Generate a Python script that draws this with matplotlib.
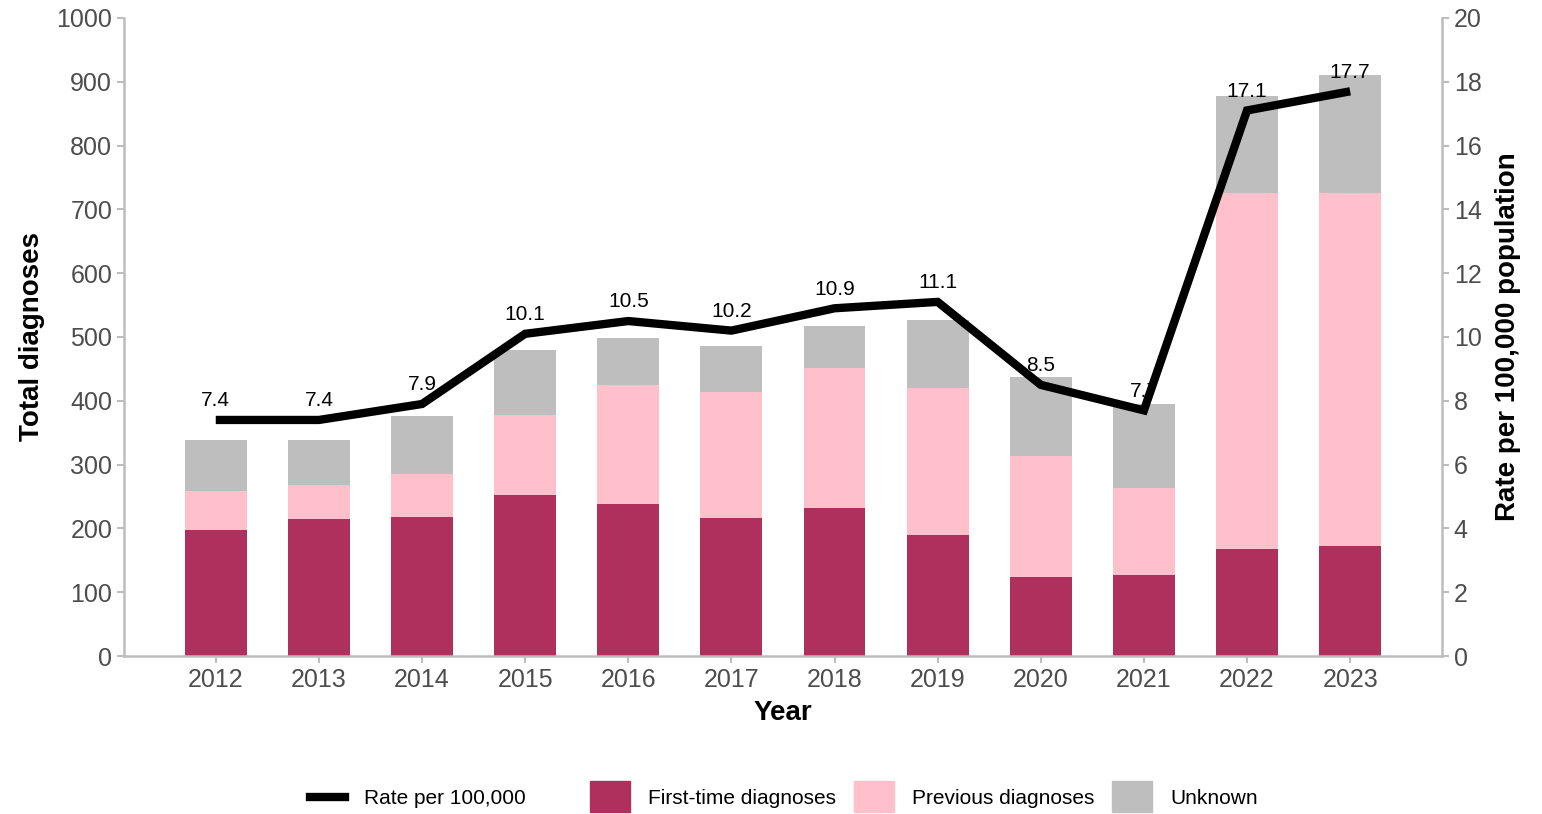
import numpy as np
import matplotlib
matplotlib.use("Agg")
import matplotlib.pyplot as plt
from matplotlib.lines import Line2D
from matplotlib.patches import Patch

plt.rcParams['font.family'] = ['Liberation Sans', 'DejaVu Sans']

years = ["2012", "2013", "2014", "2015", "2016", "2017",
         "2018", "2019", "2020", "2021", "2022", "2023"]
first_time = [198, 215, 218, 252, 238, 216, 232, 190, 124, 127, 168, 172]
previous = [61, 53, 67, 126, 187, 198, 219, 230, 189, 136, 558, 554]
unknown = [80, 71, 91, 102, 73, 72, 66, 107, 124, 132, 152, 185]
rate = [7.4, 7.4, 7.9, 10.1, 10.5, 10.2, 10.9, 11.1, 8.5, 7.7, 17.1, 17.7]

c_first = "#AF2F5D"
c_prev = "#FFC0CB"
c_unk = "#BEBEBE"
grey_txt = "#4D4D4D"
spine_col = "#BDBDBD"

fig = plt.figure(figsize=(15.42, 8.14), dpi=100)
ax = fig.add_axes([0.0804, 0.194, 0.8547, 0.784])
ax2 = ax.twinx()

x = np.arange(len(years))
w = 0.6
first_time = np.array(first_time)
previous = np.array(previous)
unknown = np.array(unknown)
ax.bar(x, first_time, w, color=c_first, zorder=2)
ax.bar(x, previous, w, bottom=first_time, color=c_prev, zorder=2)
ax.bar(x, unknown, w, bottom=first_time + previous, color=c_unk, zorder=2)

ax.set_ylim(0, 1000)
ax.set_yticks(range(0, 1001, 100))
ax.set_xlim(-0.89, len(years) - 1 + 0.89)
ax.set_xticks(x)
ax.set_xticklabels(years)

# line + labels on the secondary axis (line sits on top of the labels)
for xi, r in zip(x, rate):
    ax2.annotate(f"{r}", (xi, r), xytext=(0, 7), textcoords="offset points",
                 ha="center", va="bottom", fontsize=15, color="black", zorder=3)
ax2.plot(x, rate, color="black", lw=6, solid_capstyle="butt",
         solid_joinstyle="miter", zorder=4)
ax2.set_ylim(0, 20)
ax2.set_yticks(range(0, 21, 2))

for a in (ax, ax2):
    for s in a.spines.values():
        s.set_visible(False)
    a.tick_params(axis="both", colors=spine_col, labelcolor=grey_txt,
                  labelsize=18, length=5, width=1.5)
ax.spines["left"].set_visible(True)
ax.spines["bottom"].set_visible(True)
ax2.spines["right"].set_visible(True)
for s in (ax.spines["left"], ax.spines["bottom"], ax2.spines["right"]):
    s.set_color(spine_col)
    s.set_linewidth(1.8)

ax.set_xlabel("Year", fontsize=20, fontweight="bold", labelpad=6)
ax.set_ylabel("Total diagnoses", fontsize=20, fontweight="bold", labelpad=8)
ax2.set_ylabel("Rate per 100,000 population", fontsize=20,
               fontweight="bold", labelpad=10)

# two separate legends, like ggplot (colour + fill)
leg1 = fig.legend([Line2D([0], [0], color="black", lw=6)], ["Rate per 100,000"],
                  loc="center left", bbox_to_anchor=(310 / 1542, 0.0185),
                  frameon=False, fontsize=15, handlelength=1.7,
                  handletextpad=0.9, borderpad=0, borderaxespad=0)
fill_handles = [Patch(color=c_first), Patch(color=c_prev), Patch(color=c_unk)]
fill_labels = ["First-time diagnoses", "Previous diagnoses", "Unknown"]
fig.legend(fill_handles, fill_labels, loc="center left",
           bbox_to_anchor=(590 / 1542, 0.021), ncol=3, frameon=False,
           fontsize=15, handlelength=1.9, handleheight=1.9,
           columnspacing=0.85, handletextpad=0.9, borderpad=0, borderaxespad=0)

fig.savefig("out.png", dpi=100)
